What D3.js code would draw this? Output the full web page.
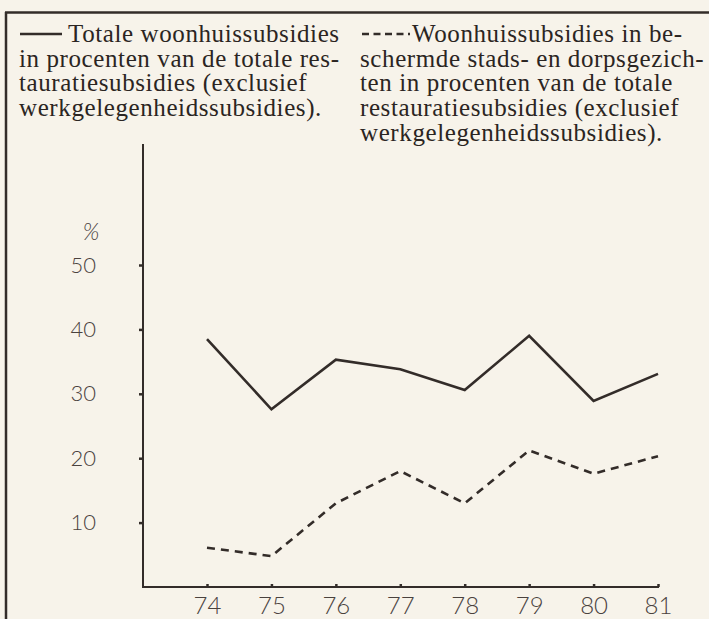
<!DOCTYPE html>
<html>
<head>
<meta charset="utf-8">
<script src="https://cdn.jsdelivr.net/npm/d3@7"></script>
<style>
  html, body { margin: 0; padding: 0; background: #f7f3ea; }
  svg { display: block; }
</style>
</head>
<body>
<script>
const years = ['74', '75', '76', '77', '78', '79', '80', '81'];
const totaal = [38.5, 27.6, 35.3, 33.8, 30.6, 39.0, 28.9, 33.1];
const beschermd = [6.1, 4.8, 13.0, 18.0, 13.0, 21.2, 17.6, 20.3];
const yTicks = [10, 20, 30, 40, 50];
const legendSolid = [
  'Totale woonhuissubsidies',
  'in procenten van de totale res-',
  'tauratiesubsidies (exclusief',
  'werkgelegenheidssubsidies).'
];
const legendDashed = [
  'Woonhuissubsidies in be-',
  'schermde stads- en dorpsgezich-',
  'ten in procenten van de totale',
  'restauratiesubsidies (exclusief',
  'werkgelegenheidssubsidies).'
];

const width = 709, height = 619;
const ink = '#332c29';
const labelInk = '#4a423e';
const serif = '"Liberation Serif", "Times New Roman", serif';
const sans = 'Lato, "Open Sans", sans-serif';

const svg = d3.select('body').append('svg')
  .attr('width', width)
  .attr('height', height);

svg.append('rect')
  .attr('width', width).attr('height', height)
  .attr('fill', '#f7f3ea');

// frame: top rule and left rule
svg.append('line')
  .attr('x1', 5).attr('x2', width).attr('y1', 12.5).attr('y2', 12.5)
  .attr('stroke', ink).attr('stroke-width', 2.5);
svg.append('line')
  .attr('x1', 6).attr('x2', 6).attr('y1', 12).attr('y2', height)
  .attr('stroke', ink).attr('stroke-width', 2.5);

// legend
const legend = svg.append('g')
  .style('font-family', serif)
  .style('font-size', '25px')
  .style('letter-spacing', '0.6px')
  .style('fill', '#2b2522');
const lineGap = 24.7;
const firstBase = 42;

legend.append('line')
  .attr('x1', 20).attr('x2', 62).attr('y1', 34).attr('y2', 34)
  .attr('stroke', ink).attr('stroke-width', 2.5);
legend.selectAll('text.solid')
  .data(legendSolid)
  .enter().append('text')
  .attr('class', 'solid')
  .attr('x', (d, i) => i === 0 ? 68 : 19)
  .attr('y', (d, i) => firstBase + i * lineGap)
  .text(d => d);

legend.append('line')
  .attr('x1', 362).attr('x2', 410).attr('y1', 34).attr('y2', 34)
  .attr('stroke', ink).attr('stroke-width', 2.5)
  .attr('stroke-dasharray', '7,4.5');
legend.selectAll('text.dashed')
  .data(legendDashed)
  .enter().append('text')
  .attr('class', 'dashed')
  .attr('x', (d, i) => i === 0 ? 412 : 360)
  .attr('y', (d, i) => firstBase + i * lineGap)
  .text(d => d);

// scales
const x = d3.scalePoint()
  .domain(years)
  .range([207, 658]);

const y = d3.scaleLinear()
  .domain([0, 50])
  .range([587, 265]);

const axisX0 = 143;

function styleAxis(g, size) {
  g.select('.domain').remove();
  g.selectAll('.tick line').attr('stroke', ink).attr('stroke-width', 2.5);
  g.selectAll('text')
    .style('font-family', sans)
    .style('font-size', size + 'px')
    .style('font-weight', 300)
    .attr('fill', labelInk);
}

// y axis
svg.append('g')
  .attr('transform', `translate(${axisX0},0)`)
  .call(d3.axisLeft(y).tickValues(yTicks).tickSize(4).tickPadding(43))
  .call(styleAxis, 22);

svg.append('line')
  .attr('x1', axisX0).attr('x2', axisX0)
  .attr('y1', 144).attr('y2', y(0))
  .attr('stroke', ink).attr('stroke-width', 2);

svg.append('text')
  .attr('x', 91).attr('y', 240)
  .attr('text-anchor', 'middle')
  .style('font-family', sans)
  .style('font-size', '23px')
  .style('font-weight', 300)
  .style('font-style', 'italic')
  .attr('fill', labelInk)
  .text('%');

// x axis
svg.append('g')
  .attr('transform', `translate(0,${y(0)})`)
  .call(d3.axisBottom(x).tickSize(-3).tickPadding(10))
  .call(styleAxis, 24);

svg.append('line')
  .attr('x1', axisX0 - 1).attr('x2', x('81') + 1)
  .attr('y1', y(0)).attr('y2', y(0))
  .attr('stroke', ink).attr('stroke-width', 2);

// series
const line = d3.line()
  .x((d, i) => x(years[i]))
  .y(d => y(d));

svg.append('path')
  .datum(totaal)
  .attr('d', line)
  .attr('fill', 'none')
  .attr('stroke', ink)
  .attr('stroke-width', 2.6)
  .attr('stroke-linejoin', 'miter');

svg.append('path')
  .datum(beschermd)
  .attr('d', line)
  .attr('fill', 'none')
  .attr('stroke', ink)
  .attr('stroke-width', 2.6)
  .attr('stroke-dasharray', '8,6');
</script>
</body>
</html>
